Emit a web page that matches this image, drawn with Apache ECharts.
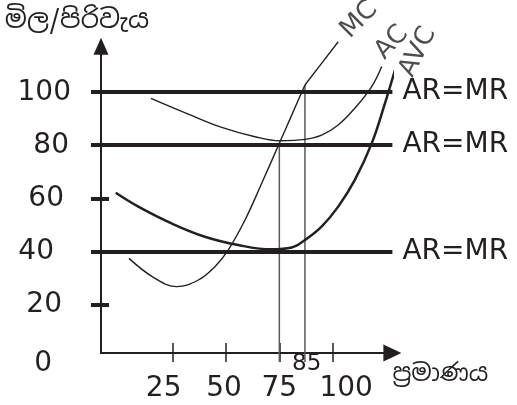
<!DOCTYPE html>
<html><head><meta charset="utf-8">
<script src="https://cdn.jsdelivr.net/npm/echarts@6/dist/echarts.min.js"></script>
<style>html,body{margin:0;padding:0;background:#fff}#c{width:517px;height:405px}</style>
</head><body><div id="c"></div>
<script>
// ---- data ----
const yTickValues = [20, 40, 60, 80, 100];
const yLabelValues = [2, 20, 40, 60, 80, 100];   // 2 = where the quantity axis sits, labelled "0"
const xTickValues = [25, 50, 75, 100];
const xLabelValues = [25, 50, 75, 100];
const xMarkedValues = [85];
const arLevels = [100, 80, 40];
const arText = 'AR=MR';
const qLines = [75, 87.0];
const qLineTops = [80.8, 102.5];
const qLineBottom = -1.35;
const acData = [[14.8,97.5],[32.3,91.6],[48.0,86.6],[63.6,83.1],[75.3,81.6],[87.0,82.1],[94.8,83.7],[102.6,87.5],[110.4,93.8],[118.3,101.9],[123.0,109.4]];
const avcData = [[-1.7,62.1],[8.9,56.9],[24.5,50.6],[40.1,45.6],[55.7,42.5],[71.4,40.9],[80.8,41.6],[87.0,44.4],[94.8,49.4],[102.6,56.9],[110.4,66.9],[118.3,80.6],[124.5,95.6],[129.2,108.1]];
const mcLower = [[4.5,37.5],[16.7,30.0],[26.9,26.9],[37.0,29.4],[44.8,34.4],[51.0,40.6],[58.9,51.9],[66.7,65.6],[75.3,81.2],[80.8,91.2],[87.0,102.5]];
const mcUpper = [[87.0,102.5],[94.8,110.6],[102.6,118.7]];
const curveNames = ['MC', 'AC', 'AVC'];
const yName = 'මිල/පිරිවැය';
const xName = 'ප්‍රමාණය';

// ---- styling ----
const INK = '#231f20';
const FONT = '"DejaVu Sans", Verdana, sans-serif';
const SIN = '"Noto Sans Sinhala", "Iskoola Pota", "Noto Sans", "DejaVu Sans", sans-serif';

const yRich = {
  v2: {padding: [22, 19, 0, 0]}, v20: {padding: [0, 9, 0, 0]}, v40: {padding: [0, 17, 0, 0]},
  v60: {padding: [0, 7, 0, 0]}, v80: {padding: [2, 2, 0, 0]}, v100: {padding: [2, 0, 0, 0]}
};
Object.keys(yRich).forEach(k => { yRich[k].fontSize = 28; yRich[k].fontFamily = FONT; yRich[k].color = INK; });
const xRich = {
  v25: {padding: [0, 18, 0, 0]}, v50: {padding: [0, 4, 0, 0]},
  v75: {padding: [0, 0, 0, 0]}, v100: {padding: [0, 0, 0, 27]}
};
Object.keys(xRich).forEach(k => { xRich[k].fontSize = 28; xRich[k].fontFamily = FONT; xRich[k].color = INK; });

const arPads = [[24, 0, 0, 0], [0, 0, 0, 0], [6, 0, 0, 0]];
// desired on-screen label shift from the curve end, and text angle
const labelPlace = [
  {rotate: 45, dx: 21, dy: -22},
  {rotate: 47, dx: 10, dy: -24},
  {rotate: 63, dx: 23, dy: -18}
];
const labelStyle = labelPlace.map(p => {
  const t = p.rotate * Math.PI / 180, c = Math.cos(t), s = Math.sin(t);
  return {rotate: p.rotate, offset: [p.dx * c - p.dy * s, p.dx * s + p.dy * c]};
});
const ends = [mcUpper[mcUpper.length - 1], acData[acData.length - 1], avcData[avcData.length - 1]];

const lineSeries = (data, w, extra) => Object.assign({
  type: 'line', data: data, smooth: 0.4, symbol: 'none', clip: false, silent: true,
  lineStyle: {color: INK, width: w}, z: 4
}, extra || {});

const chart = echarts.init(document.getElementById('c'), null, {renderer: 'canvas'});
chart.setOption({
  animation: false,
  backgroundColor: '#fff',
  grid: {left: 101, top: 46.3, right: 124.6, bottom: 51.9, containLabel: false, outerBoundsMode: 'none'},
  xAxis: [{
    type: 'value', min: -8.6, max: 128, position: 'bottom',
    axisLine: {show: true, onZero: false, symbol: ['none', 'triangle'], symbolSize: [17, 18], lineStyle: {color: INK, width: 2}},
    axisTick: {show: true, customValues: xTickValues, length: 9, lineStyle: {color: INK, width: 1.5}},
    axisLabel: {
      customValues: xLabelValues, margin: 36, verticalAlign: 'middle', align: 'center',
      hideOverlap: false, showMinLabel: true, showMaxLabel: true,
      formatter: v => '{v' + v + '|' + v + '}', rich: xRich
    },
    splitLine: {show: false},
    name: xName, nameLocation: 'end', nameGap: 0, nameMoveOverlap: false,
    nameTextStyle: {fontFamily: SIN, fontSize: 24, color: INK, verticalAlign: 'top', padding: [9, 0, 0, 0]}
  }, {
    type: 'value', min: -8.6, max: 128, position: 'bottom',
    axisLine: {show: false, onZero: false},
    axisTick: {show: true, inside: true, customValues: xTickValues, length: 10, lineStyle: {color: INK, width: 1.5}},
    axisLabel: {
      show: true, customValues: xMarkedValues, margin: 11, verticalAlign: 'middle', align: 'center',
      hideOverlap: false, fontSize: 23, fontFamily: FONT, color: INK, padding: [0, 0, 0, 12]
    },
    splitLine: {show: false}
  }],
  yAxis: [{
    type: 'value', min: 2, max: 117, position: 'left',
    axisLine: {show: true, onZero: false, symbol: ['none', 'triangle'], symbolSize: [15, 17], lineStyle: {color: INK, width: 2}},
    axisTick: {show: true, customValues: yTickValues, length: 10, lineStyle: {color: INK, width: 4}},
    axisLabel: {
      customValues: yLabelValues, margin: 30, verticalAlign: 'middle',
      hideOverlap: false, showMinLabel: true, showMaxLabel: true,
      formatter: v => '{v' + v + '|' + (v === 2 ? '0' : v) + '}', rich: yRich
    },
    splitLine: {show: false},
    name: yName, nameLocation: 'end', nameGap: 12, nameMoveOverlap: false,
    nameTextStyle: {fontFamily: SIN, fontSize: 26, color: INK, padding: [0, 48, 0, 0]}
  }, {
    type: 'value', min: 2, max: 117, position: 'left',
    axisLine: {show: false, onZero: false},
    axisTick: {show: true, inside: true, customValues: yTickValues, length: 8, lineStyle: {color: INK, width: 4}},
    axisLabel: {show: false}, splitLine: {show: false}
  }],
  series: [
    lineSeries(acData, 1.4, {
      markLine: {
        silent: true, symbol: ['none', 'none'], animation: false,
        lineStyle: {color: INK, width: 4, type: 'solid'},
        label: {show: true, position: 'end', distance: 10, formatter: arText, fontSize: 28, fontFamily: FONT, color: INK},
        emphasis: {disabled: true},
        data: arLevels.map((v, i) => ({yAxis: v, label: {padding: arPads[i]}}))
      }
    }),
    lineSeries(avcData, 2.5),
    lineSeries(mcLower, 1.4),
    lineSeries(mcUpper, 1.4, {smooth: false}),
    ...qLines.map((q, i) => ({
      type: 'line', data: [[q, qLineBottom], [q, qLineTops[i]]], symbol: 'none', clip: false, silent: true,
      lineStyle: {color: '#5a5a5a', width: 1.5}, z: 3
    })),
    {
      type: 'scatter', symbol: 'circle', symbolSize: 0, silent: true, clip: false, z: 5,
      data: curveNames.map((n, i) => ({
        name: n, value: ends[i],
        label: Object.assign({show: true, position: 'inside', formatter: '{b}', fontSize: 26, fontFamily: FONT, color: INK, align: 'center', verticalAlign: 'middle'}, labelStyle[i])
      }))
    }
  ]
});
</script></body></html>
